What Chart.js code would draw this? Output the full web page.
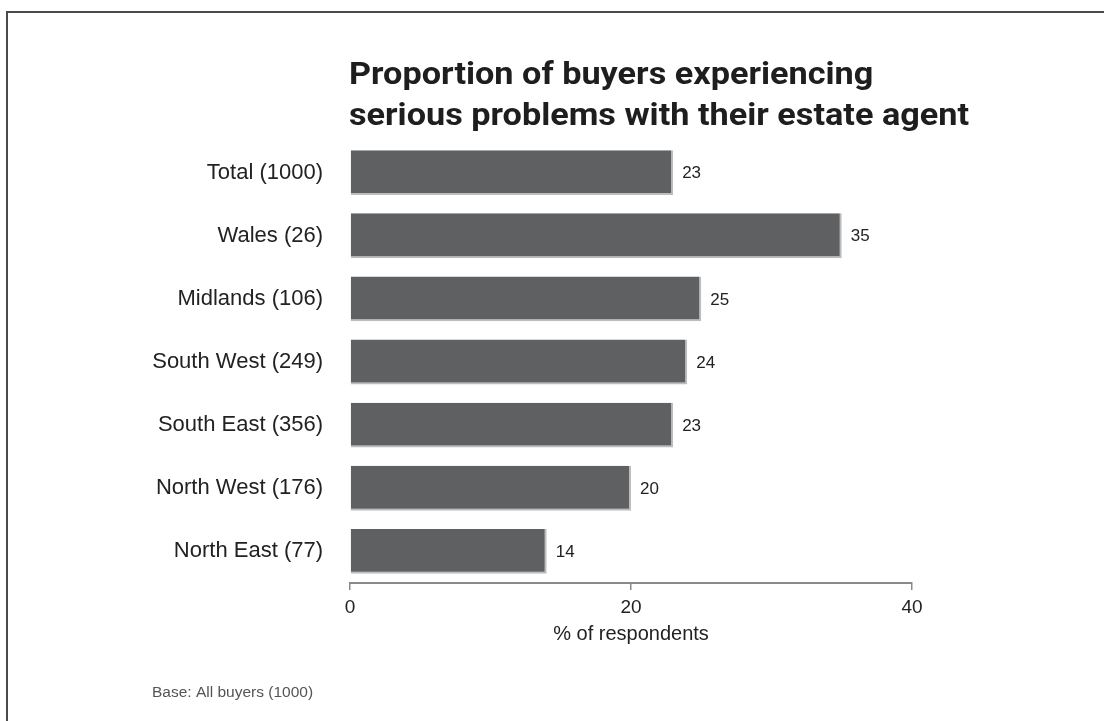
<!DOCTYPE html>
<html lang="en">
<head>
    <meta charset="UTF-8">
    <title>Buyers experiencing serious problems with their estate agent</title>
    <style>
        body {
            margin: 0;
            background: #fff;
            overflow: hidden;
        }

        .frame {
            position: absolute;
            left: 6px;
            top: 11px;
            width: 1200px;
            height: 800px;
            border: 2px solid #4a4a4a;
        }

        .wrap {
            position: absolute;
            left: 0;
            top: 0;
            width: 1104px;
            height: 721px;
        }
    </style>
</head>
<body>
    <div class="frame"></div>
    <div class="wrap">
        <canvas id="agentChart" width="1104" height="721"></canvas>
    </div>

    <script src="https://cdn.jsdelivr.net/npm/chart.js"></script>
    <script>
        // Regions with sample size, and % of buyers reporting serious problems
        const regions = ['Total (1000)', 'Wales (26)', 'Midlands (106)', 'South West (249)',
                         'South East (356)', 'North West (176)', 'North East (77)'];
        const percentages = [23, 35, 25, 24, 23, 20, 14];
        const xTicks = [0, 20, 40];

        const titleLines = ['Proportion of buyers experiencing', 'serious problems with their estate agent'];
        const footnote = 'Base: All buyers (1000)';

        const textColor = '#222';
        const barColor = '#5f6062';
        const sans = '"Liberation Sans", Arial, sans-serif';

        // Value next to each bar
        const valueLabels = {
            id: 'valueLabels',
            afterDatasetsDraw(chart) {
                const ctx = chart.ctx;
                const meta = chart.getDatasetMeta(0);
                ctx.save();
                ctx.font = '17px ' + sans;
                ctx.fillStyle = textColor;
                ctx.textAlign = 'left';
                ctx.textBaseline = 'middle';
                meta.data.forEach((bar, i) => {
                    ctx.fillText(percentages[i], bar.x + 9, bar.y + 1);
                });
                ctx.restore();
            }
        };

        // Two-line title aligned with the plot area, plus the base note
        const headings = {
            id: 'headings',
            afterDraw(chart) {
                const ctx = chart.ctx;
                const left = chart.chartArea.left;
                ctx.save();
                ctx.fillStyle = '#1e1e1e';
                ctx.textAlign = 'left';
                ctx.textBaseline = 'alphabetic';
                ctx.font = 'bold 32px Roboto, sans-serif';
                ctx.save();
                ctx.translate(left - 1, 0);
                ctx.scale(1.07, 1);
                ctx.fillText(titleLines[0], 0, 84);
                ctx.fillText(titleLines[1], 0, 125);
                ctx.restore();

                ctx.font = '15.5px ' + sans;
                ctx.fillStyle = '#555';
                ctx.fillText(footnote, 152, 697);
                ctx.restore();
            }
        };

        const ctx = document.getElementById('agentChart').getContext('2d');
        new Chart(ctx, {
            type: 'bar',
            data: {
                labels: regions,
                datasets: [{
                    data: percentages,
                    backgroundColor: barColor,
                    borderColor: '#bdbdbd',
                    borderWidth: { top: 0, left: 0, right: 2, bottom: 2 },
                    borderSkipped: false,
                    barPercentage: 0.71,
                    categoryPercentage: 1
                }]
            },
            options: {
                indexAxis: 'y',
                responsive: false,
                animation: false,
                layout: {
                    padding: { left: 0, right: 192, top: 141, bottom: 71 }
                },
                plugins: {
                    legend: { display: false },
                    tooltip: { enabled: false }
                },
                scales: {
                    x: {
                        min: 0,
                        max: 40,
                        afterBuildTicks(scale) {
                            scale.ticks = xTicks.map(v => ({ value: v }));
                        },
                        afterFit(scale) {
                            scale.height = 67;
                        },
                        grid: {
                            drawOnChartArea: false,
                            drawTicks: true,
                            tickLength: 7,
                            color: '#8a8a8a',
                            lineWidth: 1.5
                        },
                        border: { display: true, color: '#8a8a8a', width: 2 },
                        ticks: {
                            color: textColor,
                            padding: 6,
                            font: { family: sans, size: 19 }
                        },
                        title: {
                            display: true,
                            text: '% of respondents',
                            color: textColor,
                            padding: { top: 4 },
                            font: { family: sans, size: 20 }
                        }
                    },
                    y: {
                        afterFit(scale) {
                            scale.width = 350;
                        },
                        grid: { display: false },
                        border: { display: false },
                        ticks: {
                            color: textColor,
                            padding: 19,
                            font: { family: sans, size: 22 }
                        }
                    }
                }
            },
            plugins: [valueLabels, headings]
        });
    </script>
</body>
</html>
